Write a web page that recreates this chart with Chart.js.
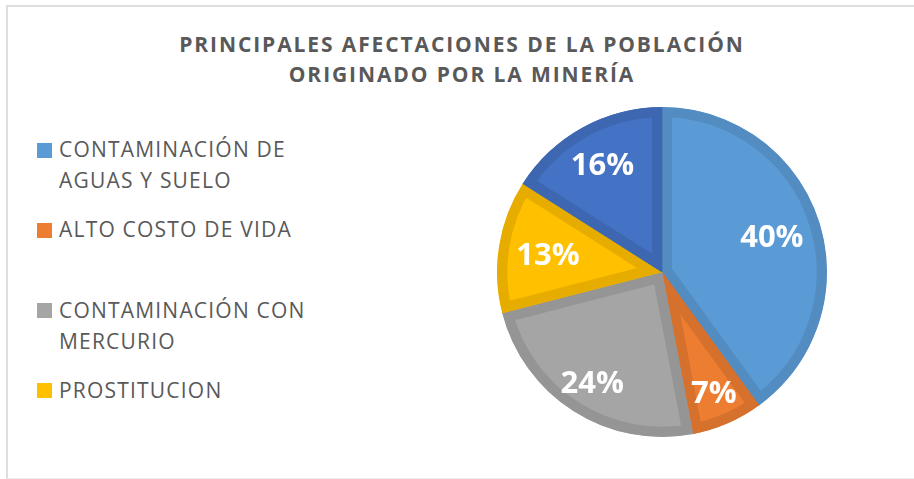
<!DOCTYPE html>
<html>
<head>
<meta charset="utf-8">
<script src="https://cdn.jsdelivr.net/npm/chart.js@4/dist/chart.umd.min.js"></script>
<style>
  html, body { margin: 0; padding: 0; background: #fff; }
  #page { position: relative; width: 914px; height: 479px; overflow: hidden; background: #fff; }
  #frame { position: absolute; left: 6px; top: 5px; width: 940px; height: 471px;
           border-top: 2px solid #dedede; border-left: 2px solid #dedede; border-bottom: 1px solid #eeeeee; }
  #title { position: absolute; left: 0; width: 924px; top: 29px; text-align: center;
           font-family: "Open Sans", sans-serif; font-weight: bold; font-size: 21px;
           line-height: 30px; color: #595959; letter-spacing: 1.9px; }
  .leg { position: absolute; left: 37px; font-family: "Open Sans", sans-serif; font-size: 21px;
         line-height: 31px; color: #595959; letter-spacing: 1.2px; }
  .leg .sw { position: absolute; left: 0; top: 8.6px; width: 15px; height: 15px; }
  .leg .tx { position: absolute; left: 22px; top: 0; white-space: nowrap; }
  #pieBox { position: absolute; left: 497px; top: 107px; width: 330px; height: 330px; }
</style>
</head>
<body>
<div id="page">
  <div id="frame"></div>
  <div id="title"></div>
  <div id="legend"></div>
  <div id="pieBox"><canvas id="c"></canvas></div>
</div>
<script>
// ---- data ----
const titleLines = ["PRINCIPALES AFECTACIONES DE LA POBLACIÓN", "ORIGINADO POR LA MINERÍA"];
const categories = [
  ["CONTAMINACIÓN DE", "AGUAS Y SUELO"],
  ["ALTO COSTO DE VIDA"],
  ["CONTAMINACIÓN CON", "MERCURIO"],
  ["PROSTITUCION"],
  [""]
];
const percentages = [40, 7, 24, 13, 16];
const fillColors = ["#5B9BD5", "#ED7D31", "#A5A5A5", "#FFC000", "#4472C4"];
const edgeColors = ["#528CC1", "#D5712C", "#959595", "#E6AD00", "#3D67B1"];

// ---- layout constants ----
const legendTops = [134.4, 214, 294.5, 374.5];
const labelRadiusFactor = [0.70, 0.79, 0.79, 0.70, 0.75];

document.getElementById('title').innerHTML = titleLines.join('<br>');

const legendEl = document.getElementById('legend');
let li = 0;
categories.forEach((lines, i) => {
  if (!lines.join('').trim()) return;
  const d = document.createElement('div');
  d.className = 'leg';
  d.style.top = legendTops[li] + 'px';
  const sw = document.createElement('div');
  sw.className = 'sw';
  sw.style.background = fillColors[i];
  const tx = document.createElement('div');
  tx.className = 'tx';
  tx.innerHTML = lines.join('<br>');
  d.appendChild(sw); d.appendChild(tx);
  legendEl.appendChild(d);
  li++;
});

const pctLabels = {
  id: 'pctLabels',
  afterDatasetsDraw(chart) {
    const ctx = chart.ctx;
    const meta = chart.getDatasetMeta(0);
    const size = 31;
    ctx.save();
    ctx.fillStyle = '#ffffff';
    ctx.font = 'bold ' + size + 'px "Open Sans", sans-serif';
    ctx.textAlign = 'center';
    ctx.textBaseline = 'alphabetic';
    meta.data.forEach((arc, i) => {
      const p = arc.getProps(['x', 'y', 'startAngle', 'endAngle', 'outerRadius'], true);
      const mid = (p.startAngle + p.endAngle) / 2;
      const r = p.outerRadius * labelRadiusFactor[i];
      const x = p.x + Math.cos(mid) * r;
      const y = p.y + Math.sin(mid) * r;
      ctx.fillText(chart.data.datasets[0].data[i] + '%', x, y + 0.357 * size);
    });
    ctx.restore();
  }
};

new Chart(document.getElementById('c'), {
  type: 'pie',
  data: {
    labels: categories.map(l => l.join(' ')),
    datasets: [{
      data: percentages,
      backgroundColor: fillColors,
      borderColor: edgeColors,
      hoverBorderColor: edgeColors,
      borderWidth: 10,
      borderAlign: 'inner',
      hoverOffset: 0,
      offset: 0
    }]
  },
  options: {
    responsive: true,
    maintainAspectRatio: false,
    animation: false,
    layout: { padding: 0 },
    plugins: {
      legend: { display: false },
      title: { display: false },
      tooltip: { enabled: false }
    },
    events: []
  },
  plugins: [pctLabels]
});
</script>
</body>
</html>
